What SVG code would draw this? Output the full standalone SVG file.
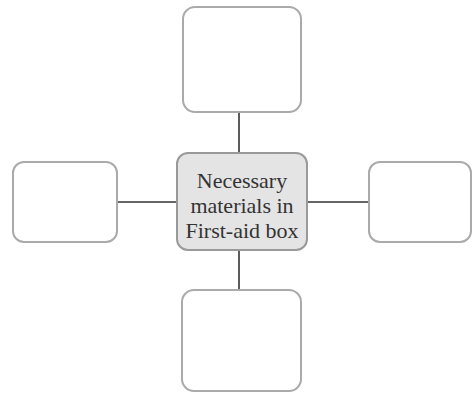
<svg xmlns="http://www.w3.org/2000/svg" width="473" height="394" viewBox="0 0 473 394">
<style>
.box{fill:#fff;stroke:#aaa;stroke-width:2}
.center{fill:#e4e4e4;stroke:#999;stroke-width:2}
.conn{stroke:#333;stroke-width:1.6;fill:none}
.t{font-family:"Liberation Serif",serif;font-size:22px;fill:#333;text-anchor:middle}
</style>
<rect width="473" height="394" fill="#fff"/>
<g id="connectors">
<line class="conn" x1="239" y1="112" x2="239" y2="153"/>
<line class="conn" x1="239" y1="250" x2="239" y2="290"/>
<line class="conn" x1="117" y1="202" x2="177" y2="202"/>
<line class="conn" x1="307" y1="202" x2="369" y2="202"/>
</g>
<g id="top"><rect class="box" x="183" y="7" width="118" height="105" rx="12"/></g>
<g id="left"><rect class="box" x="13" y="162" width="104" height="80" rx="11"/></g>
<g id="right"><rect class="box" x="369" y="162" width="102" height="80" rx="11"/></g>
<g id="bottom"><rect class="box" x="182" y="290" width="119" height="101" rx="12"/></g>
<g id="center">
<rect class="center" x="177" y="153" width="130" height="97" rx="11"/>
<text class="t" x="242" y="188">Necessary</text>
<text class="t" x="242" y="213">materials in</text>
<text class="t" x="242" y="238">First-aid box</text>
</g>
</svg>
